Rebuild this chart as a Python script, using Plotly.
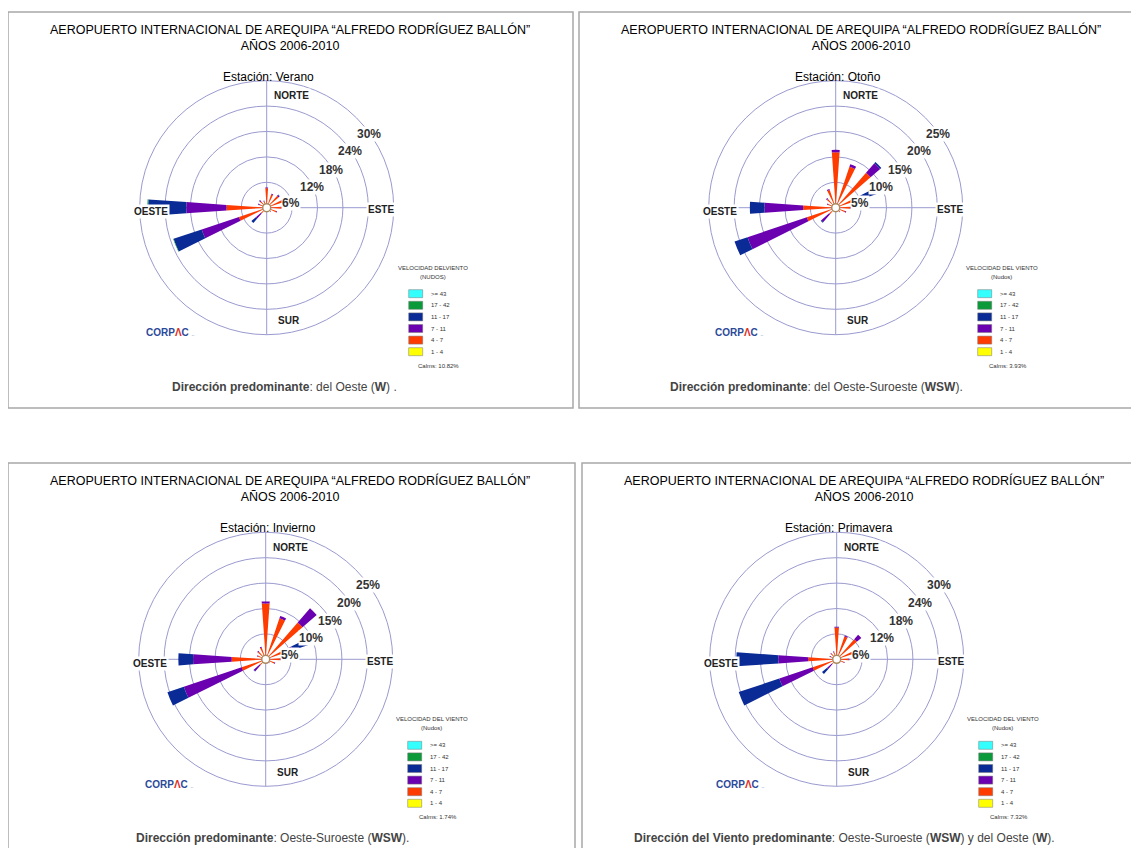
import math
import plotly.graph_objects as go

W, H = 1139, 856
OFF = 8  # page body margin
FW, FH = W - 2 * OFF, H - 2 * OFF

# wind directions (16 sectors, clockwise from north)
direcciones = ["N", "NNE", "NE", "ENE", "E", "ESE", "SE", "SSE",
               "S", "SSW", "SW", "WSW", "W", "WNW", "NW", "NNW"]

# speed classes (knots), inner -> outer
clases = ["1 - 4", "4 - 7", "7 - 11", "11 - 17", "17 - 42", ">= 43"]
colores = ["#FFFF00", "#FF3C00", "#6A00B0", "#0A2A96", "#0A9A3A", "#33FFFF"]

# Verano (frequency %, per class)
verano_1_4 = [0.6, 0.5, 0.5, 0.5, 0.5, 0.4, 0.3, 0.3, 0.3, 0.3, 0.4, 0.5, 0.6, 0.4, 0.4, 0.4]
verano_4_7 = [4.0, 2.8, 3.2, 3.4, 3.0, 2.0, 1.0, 0.6, 0.5, 0.6, 1.4, 6.4, 8.9, 1.4, 1.6, 1.2]
verano_7_11 = [0.2, 0.2, 0.3, 0.3, 0.3, 0.2, 0.1, 0.0, 0.0, 0.1, 1.6, 9.3, 9.5, 0.3, 0.3, 0.2]
verano_11_17 = [0.0, 0.0, 0.1, 0.1, 0.0, 0.0, 0.0, 0.0, 0.0, 0.0, 1.4, 7.0, 9.0, 0.1, 0.1, 0.0]
verano_17_42 = [0.0, 0.0, 0.0, 0.0, 0.0, 0.0, 0.0, 0.0, 0.0, 0.0, 0.0, 0.1, 0.2, 0.0, 0.0, 0.0]
verano_43 = [0.0] * 16

# Otoño
otono_1_4 = [0.5, 0.5, 0.5, 0.4, 0.4, 0.3, 0.3, 0.2, 0.2, 0.3, 0.3, 0.5, 0.5, 0.3, 0.4, 0.4]
otono_4_7 = [10.4, 8.0, 8.6, 3.0, 2.4, 1.7, 0.8, 0.5, 0.4, 0.5, 1.4, 5.5, 5.9, 1.3, 1.9, 3.3]
otono_7_11 = [0.5, 0.5, 2.5, 2.0, 0.2, 0.2, 0.1, 0.1, 0.1, 0.0, 2.0, 12.3, 7.6, 0.2, 0.2, 0.2]
otono_11_17 = [0.0, 0.0, 0.3, 4.1, 0.0, 0.0, 0.0, 0.0, 0.0, 0.0, 0.2, 2.7, 2.9, 0.0, 0.0, 0.0]
otono_17_42 = [0.0] * 16
otono_43 = [0.0] * 16

# Invierno
invierno_1_4 = [0.5, 0.5, 0.5, 0.4, 0.4, 0.3, 0.3, 0.2, 0.2, 0.3, 0.3, 0.5, 0.5, 0.3, 0.4, 0.4]
invierno_4_7 = [10.5, 8.0, 9.1, 3.0, 2.4, 1.5, 0.6, 0.4, 0.3, 0.4, 1.2, 4.5, 6.2, 1.3, 1.6, 2.0]
invierno_7_11 = [0.4, 0.5, 3.7, 2.2, 0.2, 0.2, 0.1, 0.1, 0.1, 0.1, 1.6, 12.0, 7.6, 0.2, 0.2, 0.2]
invierno_11_17 = [0.0, 0.0, 0.0, 4.5, 0.0, 0.0, 0.0, 0.0, 0.0, 0.0, 0.1, 3.4, 2.9, 0.0, 0.0, 0.0]
invierno_17_42 = [0.0] * 16
invierno_43 = [0.0] * 16

# Primavera
primavera_1_4 = [0.5, 0.5, 0.5, 0.4, 0.4, 0.3, 0.3, 0.2, 0.2, 0.3, 0.3, 0.5, 0.5, 0.3, 0.4, 0.4]
primavera_4_7 = [7.0, 5.2, 5.8, 3.6, 2.4, 1.5, 0.6, 0.4, 0.3, 0.4, 1.2, 5.5, 6.2, 1.2, 1.4, 1.4]
primavera_7_11 = [0.2, 0.2, 1.4, 0.5, 0.2, 0.2, 0.1, 0.0, 0.0, 0.1, 1.5, 8.3, 7.1, 0.2, 0.2, 0.2]
primavera_11_17 = [0.0, 0.0, 0.0, 0.0, 0.0, 0.0, 0.0, 0.0, 0.0, 0.0, 1.6, 10.1, 9.9, 0.1, 0.0, 0.0]
primavera_17_42 = [0.0] * 16
primavera_43 = [0.0] * 16

estaciones = ["Verano", "Otoño", "Invierno", "Primavera"]
calmas = ["10.82%", "3.93%", "1.74%", "7.32%"]
anillos = [[6, 12, 18, 24, 30], [5, 10, 15, 20, 25], [5, 10, 15, 20, 25], [6, 12, 18, 24, 30]]
leyenda_titulo = [("VELOCIDAD DELVIENTO", "(NUDOS)"), ("VELOCIDAD DEL VIENTO", "(Nudos)"),
                  ("VELOCIDAD DEL VIENTO", "(Nudos)"), ("VELOCIDAD DEL VIENTO", "(Nudos)")]
textos_pie = [
    "<b>Dirección predominante</b>: del Oeste (<b>W</b>) .",
    "<b>Dirección predominante</b>: del Oeste-Suroeste (<b>WSW</b>).",
    "<b>Dirección predominante</b>: Oeste-Suroeste (<b>WSW</b>).",
    "<b>Dirección del Viento predominante</b>: Oeste-Suroeste (<b>WSW</b>) y del Oeste (<b>W</b>).",
]
datos = [
    [verano_1_4, verano_4_7, verano_7_11, verano_11_17, verano_17_42, verano_43],
    [otono_1_4, otono_4_7, otono_7_11, otono_11_17, otono_17_42, otono_43],
    [invierno_1_4, invierno_4_7, invierno_7_11, invierno_11_17, invierno_17_42, invierno_43],
    [primavera_1_4, primavera_4_7, primavera_7_11, primavera_11_17, primavera_17_42, primavera_43],
]

titulo = "AEROPUERTO INTERNACIONAL DE AREQUIPA “ALFREDO RODRÍGUEZ BALLÓN”<br>AÑOS 2006-2010"

# layout (page pixels)
centros = [(266.7, 207.7), (835.7, 207.7), (265.7, 659.3), (836.7, 659.3)]
cajas = [(8, 12, 573, 408), (579, 12, 1150, 408), (8, 463, 575, 870), (582, 463, 1150, 870)]
pie_x = [170, 668, 134, 632]
R = 127
ring_col = "#9a9ad0"
FONT = "Liberation Sans, Arial, sans-serif"
NARROW = "Liberation Sans Narrow, Liberation Sans, Arial, sans-serif"
theta = [i * 22.5 for i in range(len(direcciones))]


def fx(x):
    return (x - OFF) / FW


def fy(y):
    return 1 - (y - OFF) / FH


fig = go.Figure()
annotations = []
shapes = []

for k in range(4):
    sp = "polar" if k == 0 else "polar%d" % (k + 1)
    for clase, col, vals in zip(clases, colores, datos[k]):
        fig.add_trace(go.Barpolar(r=vals, theta=theta, width=8, name=clase,
                                  marker=dict(color=col, line=dict(width=0)),
                                  subplot=sp, showlegend=False))
    # calm circle
    fig.add_trace(go.Scatterpolar(r=[0], theta=[0], mode="markers", subplot=sp,
                                  marker=dict(size=8, color="white",
                                              line=dict(color="#a88a60", width=1.5)),
                                  showlegend=False, cliponaxis=False))

    cx, cy = centros[k]
    polar = dict(
        domain=dict(x=[fx(cx - R), fx(cx + R)], y=[fy(cy + R), fy(cy - R)]),
        bgcolor="rgba(0,0,0,0)",
        barmode="stack",
        radialaxis=dict(range=[0, anillos[k][-1]], tickvals=anillos[k], showticklabels=False,
                        ticks="", gridcolor=ring_col, gridwidth=1, showline=False,
                        layer="below traces"),
        angularaxis=dict(direction="clockwise", rotation=90, tickvals=[0, 90, 180, 270],
                         showticklabels=False, ticks="", gridcolor=ring_col, gridwidth=1,
                         showline=True, linecolor=ring_col, linewidth=1,
                         layer="below traces"),
    )
    fig.update_layout(**{sp: polar})

    # panel box
    x0, y0, x1, y1 = cajas[k]
    shapes.append(dict(type="rect", xref="paper", yref="paper",
                       x0=fx(x0), x1=fx(x1), y0=fy(y1), y1=fy(y0),
                       line=dict(color="#a8a8a8", width=1.5)))

    # titles
    annotations.append(dict(x=fx(x0 + 282), y=fy(y0 + 26), text=titulo, showarrow=False,
                            xanchor="center", yanchor="middle",
                            font=dict(family=FONT, size=12.5, color="#000")))
    annotations.append(dict(x=fx(cx + 2), y=fy(cy - 131), text="Estación: " + estaciones[k],
                            showarrow=False, xanchor="center", yanchor="middle",
                            font=dict(family=FONT, size=12, color="#000")))

    # cardinal labels
    for txt, dx, dy in [("NORTE", 25, -112), ("ESTE", 114, 2), ("SUR", 22, 113), ("OESTE", -116, 4)]:
        annotations.append(dict(x=fx(cx + dx), y=fy(cy + dy), text="<b>%s</b>" % txt,
                                showarrow=False, xanchor="center", yanchor="middle",
                                bgcolor="white", borderpad=1,
                                font=dict(family=NARROW, size=10, color="#222")))

    # percent labels along the rings
    for i, (val, ang) in enumerate(zip(anillos[k], [80, 65, 59.5, 56, 54])):
        d = R * (i + 1) / 5 - 1
        a = math.radians(ang)
        annotations.append(dict(x=fx(cx + d * math.sin(a)), y=fy(cy - d * math.cos(a)),
                                text="<b>%d%%</b>" % val, showarrow=False,
                                xanchor="center", yanchor="middle", bgcolor="white",
                                borderpad=0, font=dict(family=FONT, size=12, color="#333")))

    # legend block
    t1, t2 = leyenda_titulo[k]
    annotations.append(dict(x=fx(cx + 166), y=fy(cy + 60), text=t1, showarrow=False,
                            xanchor="center", yanchor="middle",
                            font=dict(family=FONT, size=6, color="#333")))
    annotations.append(dict(x=fx(cx + 166), y=fy(cy + 69), text=t2, showarrow=False,
                            xanchor="center", yanchor="middle",
                            font=dict(family=FONT, size=6, color="#333")))
    for i, (clase, col) in enumerate(zip(clases[::-1], colores[::-1])):
        yy = cy + 86 + 11.6 * i
        shapes.append(dict(type="rect", xref="paper", yref="paper",
                           x0=fx(cx + 142), x1=fx(cx + 156), y0=fy(yy + 4), y1=fy(yy - 4),
                           fillcolor=col, line=dict(color="#777", width=0.5)))
        annotations.append(dict(x=fx(cx + 162), y=fy(yy), text=clase, showarrow=False,
                                xanchor="left", yanchor="middle",
                                font=dict(family=FONT, size=6, color="#333")))
    annotations.append(dict(x=fx(cx + 172), y=fy(cy + 158), text="Calms: " + calmas[k],
                            showarrow=False, xanchor="center", yanchor="middle",
                            font=dict(family=FONT, size=6, color="#333")))

    # logo
    annotations.append(dict(x=fx(cx - 97), y=fy(cy + 125),
                            text="<b>CORP<span style='color:#e0301e'>Λ</span>C</b> <span style='font-size:5px'>..</span>",
                            showarrow=False, xanchor="center", yanchor="middle",
                            font=dict(family=FONT, size=10, color="#2b4a9a")))

    # footer
    annotations.append(dict(x=fx(pie_x[k]), y=fy(cy + 179), text=textos_pie[k],
                            showarrow=False, xanchor="left", yanchor="middle",
                            font=dict(family=FONT, size=12, color="#444")))

# thin line across the top
shapes.append(dict(type="line", xref="paper", yref="paper", x0=0, x1=1, y0=fy(3), y1=fy(3),
                   line=dict(color="#d0d0d0", width=1)))

fig.update_layout(width=FW, height=FH, margin=dict(l=0, r=0, t=0, b=0),
                  paper_bgcolor="white", plot_bgcolor="white",
                  annotations=annotations, shapes=shapes, showlegend=False)

fig.write_html("out.html")
